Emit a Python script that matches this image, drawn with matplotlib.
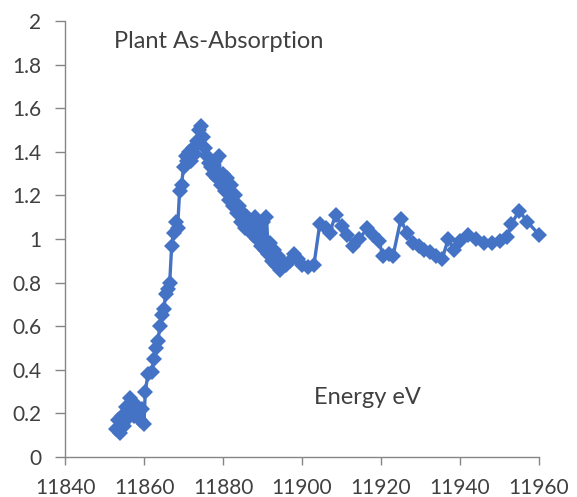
import matplotlib
matplotlib.use("Agg")
import matplotlib.pyplot as plt

# Data
energy = [11853.0, 11853.5, 11854.0, 11854.5, 11855.0, 11855.5, 11856.0, 11856.5,
          11857.0, 11857.5, 11858.0, 11858.5, 11859.0, 11859.5, 11860.0, 11860.3,
          11861.0, 11862.0, 11862.5, 11863.0, 11863.5, 11864.0, 11864.5, 11865.0,
          11865.5, 11866.0, 11866.5, 11867.0, 11867.5, 11868.0, 11868.5, 11869.0,
          11869.5, 11870.0, 11870.5, 11871.0, 11871.5, 11872.0, 11872.5, 11873.0,
          11873.5, 11874.0, 11874.5, 11875.0, 11875.5, 11876.0, 11876.5, 11877.0,
          11877.5, 11878.0, 11878.5, 11879.0, 11879.5, 11880.0, 11880.5, 11881.0,
          11881.5, 11882.0, 11882.5, 11883.0, 11883.5, 11884.0, 11884.5, 11885.0,
          11885.5, 11886.0, 11886.5, 11887.0, 11887.5, 11888.0, 11888.5, 11889.0,
          11889.5, 11890.0, 11890.5, 11891.0, 11891.5, 11892.0, 11892.5, 11893.0,
          11893.5, 11894.0, 11894.5, 11895.0, 11896.0, 11897.0, 11898.0, 11899.0,
          11900.0, 11901.5, 11903.0, 11904.5, 11906.0, 11907.0, 11908.5, 11910.0,
          11911.5, 11913.0, 11914.5, 11916.5, 11918.0, 11919.5, 11920.5, 11922.0,
          11923.0, 11925.0, 11926.5, 11928.0, 11929.5, 11931.0, 11932.5, 11934.0,
          11935.5, 11937.0, 11938.5, 11940.0, 11942.0, 11944.0, 11946.0, 11948.0,
          11950.0, 11952.0, 11953.0, 11955.0, 11957.0, 11960.0]
absorption = [0.13, 0.17, 0.11, 0.19, 0.14, 0.23, 0.18, 0.27,
              0.21, 0.19, 0.24, 0.20, 0.17, 0.22, 0.15, 0.30,
              0.38, 0.39, 0.45, 0.50, 0.53, 0.60, 0.65, 0.68,
              0.75, 0.77, 0.80, 0.97, 1.03, 1.08, 1.05, 1.22,
              1.25, 1.33, 1.38, 1.36, 1.40, 1.36, 1.42, 1.39,
              1.45, 1.50, 1.52, 1.47, 1.42, 1.38, 1.35, 1.33,
              1.30, 1.36, 1.28, 1.38, 1.25, 1.30, 1.22, 1.28,
              1.18, 1.25, 1.15, 1.20, 1.12, 1.15, 1.08, 1.12,
              1.05, 1.10, 1.04, 1.08, 1.02, 1.10, 1.00, 1.06,
              0.97, 1.08, 0.95, 1.10, 0.93, 0.98, 0.90, 0.95,
              0.88, 0.92, 0.86, 0.90, 0.88, 0.90, 0.93, 0.91,
              0.88, 0.87, 0.88, 1.07, 1.05, 1.03, 1.11, 1.06,
              1.02, 0.97, 1.00, 1.05, 1.02, 0.99, 0.92, 0.93,
              0.92, 1.09, 1.03, 0.98, 0.97, 0.95, 0.94, 0.92,
              0.91, 1.00, 0.95, 0.99, 1.02, 1.00, 0.98, 0.98,
              0.99, 1.01, 1.07, 1.13, 1.08, 1.02]

x_ticks = [11840, 11860, 11880, 11900, 11920, 11940, 11960]
y_ticks = [0, 0.2, 0.4, 0.6, 0.8, 1, 1.2, 1.4, 1.6, 1.8, 2]
y_labels = ["0", "0.2", "0.4", "0.6", "0.8", "1", "1.2", "1.4", "1.6", "1.8", "2"]

plt.rcParams["font.family"] = ["Lato", "DejaVu Sans"]
text_color = "#404040"
blue = "#4472C4"
axis_gray = "#868686"

fig = plt.figure(figsize=(5.77, 4.97), dpi=100)
ax = fig.add_axes([0.1127, 0.0805, 0.8215, 0.877])

ax.plot(energy, absorption, "-", color=blue, linewidth=2.4,
        marker="D", markersize=8.6, markeredgewidth=0, clip_on=False)

ax.set_xlim(11840, 11960)
ax.set_ylim(0, 2)
ax.set_xticks(x_ticks)
ax.set_xticklabels([str(t) for t in x_ticks])
ax.set_yticks(y_ticks)
ax.set_yticklabels(y_labels)

for side in ["top", "right"]:
    ax.spines[side].set_visible(False)
for side in ["left", "bottom"]:
    ax.spines[side].set_color(axis_gray)
    ax.spines[side].set_linewidth(1)

ax.tick_params(axis="both", direction="out", width=1, color=axis_gray,
               labelsize=15, labelcolor=text_color)
ax.tick_params(axis="x", length=6, pad=9)
ax.tick_params(axis="y", length=7, pad=10)

ax.text(11852.4, 1.905, "Plant As-Absorption", fontsize=17, color=text_color,
        va="center", ha="left")
ax.text(11903, 0.275, "Energy eV", fontsize=17, color=text_color,
        va="center", ha="left")

fig.savefig("out.png", dpi=100, facecolor="white")
